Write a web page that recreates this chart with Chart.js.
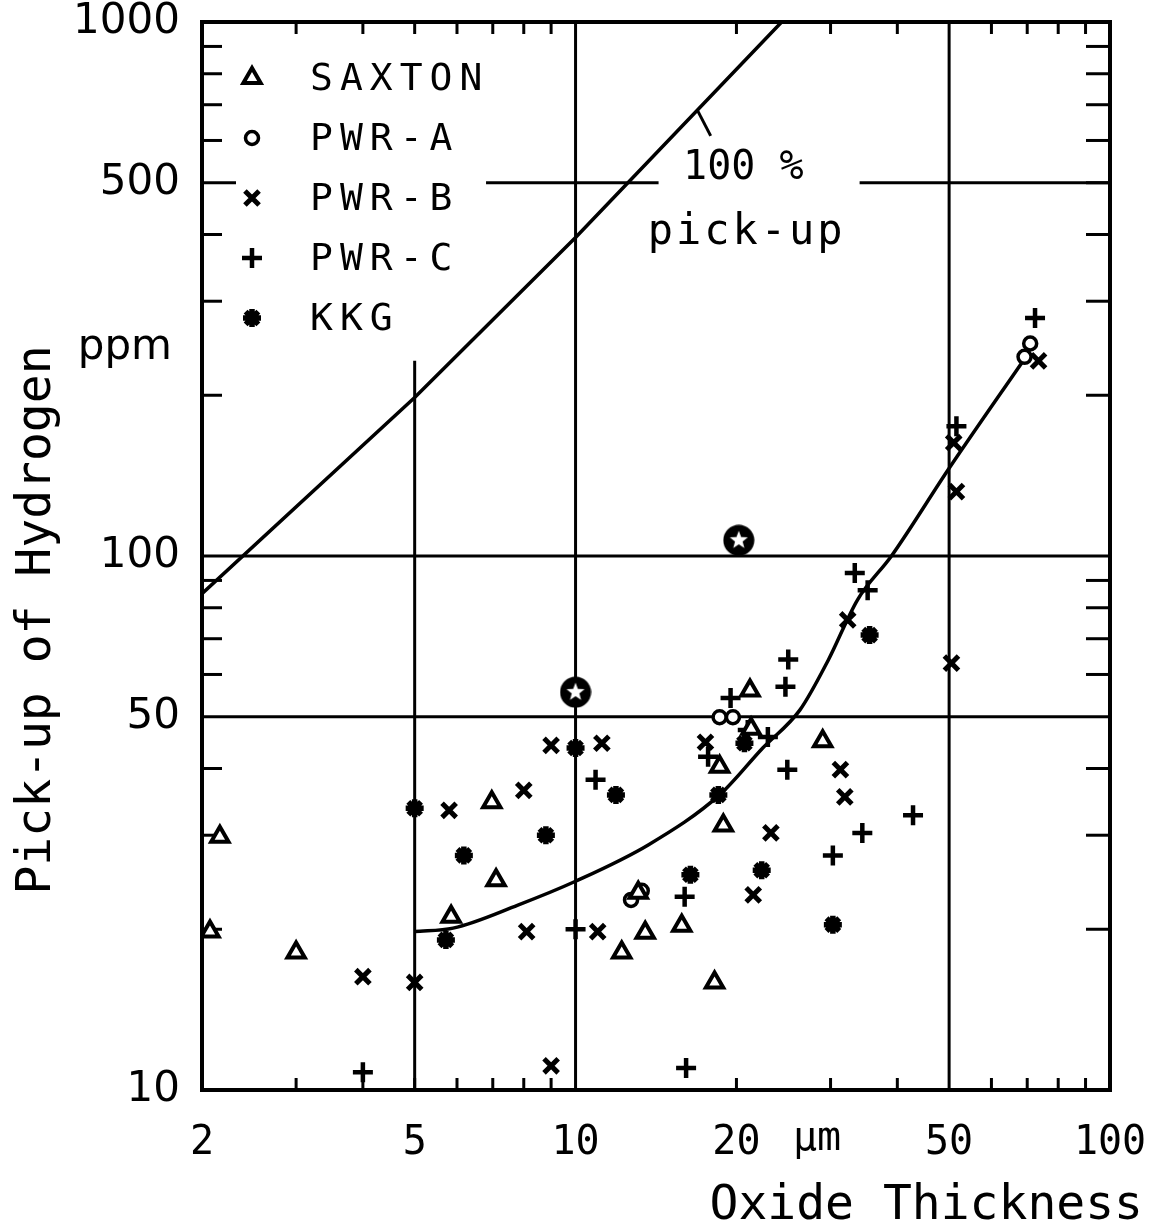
<!DOCTYPE html>
<html>
<head>
<meta charset="utf-8">
<script src="https://cdn.jsdelivr.net/npm/chart.js@4.4.0/dist/chart.umd.min.js"></script>
<style>
  body { margin: 0; background: #fff; }
  #wrap { width: 1158px; height: 1229px; }
</style>
</head>
<body>
<div id="wrap"><canvas id="mycanvas"></canvas></div>
<script>
// oxide thickness (um) vs. hydrogen pick-up (ppm), one pair of arrays per plant
var saxtonX = [2.16, 2.07, 3.0, 6.97, 7.1, 5.85, 12.2, 13.1, 13.5, 15.8, 18.2, 18.9, 18.6, 21.3, 21.2, 29.0];
var saxtonY = [29.8, 19.8, 18.1, 34.6, 24.7, 21.1, 18.1, 23.4, 19.7, 20.3, 15.9, 31.3, 40.3, 47.5, 56.0, 45.0];

var pwrAX = [12.7, 13.3, 18.6, 19.7, 69.2, 70.9];
var pwrAY = [22.7, 23.6, 49.9, 49.9, 236, 250];

var pwrBX = [4.0, 5.0, 5.8, 8.0, 8.1, 9.0, 9.0, 11.0, 11.2, 17.5, 21.5, 23.2, 31.3, 31.9, 32.3, 50.5, 51.0, 51.6, 73.5];
var pwrBY = [16.3, 15.9, 33.4, 36.4, 19.8, 44.2, 11.1, 19.8, 44.6, 44.8, 23.2, 30.3, 39.8, 35.4, 75.9, 63, 163, 132, 232];

var pwrCX = [4.0, 10.0, 10.9, 16.1, 16.0, 17.7, 19.5, 21.0, 22.9, 24.9, 24.7, 25.0, 30.3, 34.4, 42.8, 33.3, 35.2, 51.6, 72.4];
var pwrCY = [10.8, 20.0, 38.1, 11.0, 23.0, 42.1, 54.2, 47.2, 45.8, 39.8, 56.9, 64.0, 27.5, 30.3, 32.7, 92.9, 86.3, 175, 279];

var kkgX = [5.0, 5.72, 6.18, 8.8, 10.0, 11.9, 16.4, 18.5, 20.7, 22.3, 30.3, 35.5];
var kkgY = [33.7, 19.1, 27.5, 30.0, 43.7, 35.7, 25.3, 35.7, 44.6, 25.8, 20.4, 71.1];

// the two circled-star points
var badgeX = [10.0, 20.2];
var badgeY = [55.6, 107];

// trend through the measurements
var fitX = [5, 5.9, 7.8, 10, 13.7, 18.6, 22.4, 26.3, 29.7, 33.7, 39, 50, 70];
var fitY = [19.8, 20.1, 22.2, 24.6, 28.8, 35.7, 43.7, 51.5, 63.8, 82.8, 100, 146, 238];

// 100 % pick-up line
var fullX = [2, 5, 10, 24.3];
var fullY = [85, 198, 395, 1000];

var xTicks = [2, 5, 10, 20, 50, 100];
var yTicks = [10, 50, 100, 500, 1000];
var seriesNames = ['SAXTON', 'PWR-A', 'PWR-B', 'PWR-C', 'KKG'];

function zip(xs, ys) {
	var out = [];
	for (var i in xs) {
		out.push({x: xs[i], y: ys[i]});
	}
	return out;
}

// black disc with a white star
var badge = document.createElement('canvas');
badge.width = 32;
badge.height = 32;
(function(){
	var c = badge.getContext('2d');
	c.fillStyle = '#000';
	c.beginPath();
	c.arc(16, 16, 15.5, 0, Math.PI * 2);
	c.fill();
	c.fillStyle = '#fff';
	c.beginPath();
	for (var k = 0; k < 10; k++) {
		var r = k % 2 ? 4 : 9.5;
		var a = -Math.PI / 2 + k * Math.PI / 5;
		c.lineTo(16 + r * Math.cos(a), 16 + r * Math.sin(a));
	}
	c.closePath();
	c.fill();
})();

var monoFont = '"DejaVu Sans Mono", "Liberation Mono", monospace';
var sansFont = '"DejaVu Sans", "Liberation Sans", sans-serif';

function line(ctx, x1, y1, x2, y2) {
	ctx.beginPath();
	ctx.moveTo(x1, y1);
	ctx.lineTo(x2, y2);
	ctx.stroke();
}

var frame = {
	id: 'frame',
	beforeDatasetsDraw: function(chart) {
		var ctx = chart.ctx, a = chart.chartArea;
		var xs = chart.scales.x, ys = chart.scales.y;
		ctx.save();
		ctx.strokeStyle = '#000';
		ctx.lineWidth = 3;

		[10, 50].forEach(function(v){
			var px = xs.getPixelForValue(v);
			line(ctx, px, a.top, px, a.bottom);
		});
		[50, 100].forEach(function(v){
			var py = ys.getPixelForValue(v);
			line(ctx, a.left, py, a.right, py);
		});
		// 5 um line stops above the 100 % line
		var p5 = xs.getPixelForValue(5);
		line(ctx, p5, ys.getPixelForValue(232), p5, a.bottom);
		// 500 ppm line, broken for the label
		var p500 = ys.getPixelForValue(500);
		line(ctx, xs.getPixelForValue(6.8), p500, xs.getPixelForValue(14.3), p500);
		line(ctx, xs.getPixelForValue(34), p500, a.right, p500);

		// inward minor ticks on all four sides
		[3, 4, 5, 6, 7, 8, 9, 20, 30, 40, 60, 70, 80, 90].forEach(function(v){
			var px = xs.getPixelForValue(v);
			line(ctx, px, a.top, px, a.top + 12);
			line(ctx, px, a.bottom, px, a.bottom - 12);
		});
		[20, 30, 40, 60, 70, 80, 90, 200, 300, 400, 500, 600, 700, 800, 900].forEach(function(v){
			var py = ys.getPixelForValue(v);
			line(ctx, a.left, py, a.left + (v == 500 ? 34 : 20), py);
			line(ctx, a.right, py, a.right - 24, py);
		});

		ctx.lineWidth = 4;
		ctx.strokeRect(a.left, a.top, a.right - a.left, a.bottom - a.top);
		ctx.restore();
	},
	afterDraw: function(chart) {
		var ctx = chart.ctx, a = chart.chartArea;
		var xs = chart.scales.x, ys = chart.scales.y;
		ctx.save();
		ctx.fillStyle = '#000';
		ctx.strokeStyle = '#000';

		// axis titles
		ctx.font = '48px ' + monoFont;
		ctx.textAlign = 'right';
		ctx.textBaseline = 'alphabetic';
		ctx.fillText('Oxide Thickness', 1143, 1219);

		ctx.save();
		ctx.translate(38, 620);
		ctx.rotate(-Math.PI / 2);
		ctx.textAlign = 'center';
		ctx.textBaseline = 'middle';
		ctx.fillText('Pick-up of Hydrogen', 0, 0);
		ctx.restore();

		// units next to the tick labels
		ctx.font = '42px ' + sansFont;
		ctx.textAlign = 'right';
		ctx.textBaseline = 'middle';
		ctx.fillText('ppm', a.left - 30, ys.getPixelForValue(245));

		ctx.font = '40px ' + monoFont;
		ctx.textAlign = 'center';
		ctx.textBaseline = 'top';
		ctx.fillText('\u03bcm', xs.getPixelForValue(28.3), xs.top + 30);

		// label of the 100 % line with its leader
		ctx.textBaseline = 'middle';
		ctx.fillText('100 %', xs.getPixelForValue(20.6), ys.getPixelForValue(531));
		ctx.font = '42px ' + monoFont;
		ctx.letterSpacing = '3px';
		ctx.fillText('pick-up', xs.getPixelForValue(20.9), ys.getPixelForValue(403));
		ctx.letterSpacing = '0px';
		ctx.lineWidth = 3;
		line(ctx, xs.getPixelForValue(16.9), ys.getPixelForValue(684), xs.getPixelForValue(17.9), ys.getPixelForValue(612));

		// legend inside the plot
		ctx.font = '38px ' + monoFont;
		ctx.letterSpacing = '7px';
		ctx.textAlign = 'left';
		ctx.textBaseline = 'middle';
		for (var i = 0; i < seriesNames.length; i++) {
			var ds = chart.data.datasets[i];
			var cy = a.top + 56 + i * 60;
			ctx.fillStyle = ds.pointBackgroundColor;
			ctx.strokeStyle = '#000';
			ctx.lineWidth = ds.pointBorderWidth;
			if (Chart.helpers && Chart.helpers.drawPoint) {
				Chart.helpers.drawPoint(ctx, {
					pointStyle: ds.pointStyle,
					radius: ds.pointRadius,
					borderWidth: ds.pointBorderWidth,
					rotation: 0
				}, a.left + 50, cy);
			}
			ctx.fillStyle = '#000';
			ctx.fillText(seriesNames[i], a.left + 108, cy + 2);
		}
		ctx.restore();
	}
};

function pointSet(name, xs, ys, style, radius, border, fill) {
	return {
		label: name,
		data: zip(xs, ys),
		pointStyle: style,
		pointRadius: radius,
		pointBorderWidth: border,
		pointBackgroundColor: fill,
		pointBorderColor: '#000',
		showLine: false
	};
}

var chartdata = {
	datasets: [
		pointSet('SAXTON', saxtonX, saxtonY, 'triangle', 10, 4, '#fff'),
		pointSet('PWR-A', pwrAX, pwrAY, 'circle', 6.5, 3.5, '#fff'),
		pointSet('PWR-B', pwrBX, pwrBY, 'crossRot', 10, 5, '#000'),
		pointSet('PWR-C', pwrCX, pwrCY, 'cross', 10, 4.5, '#000'),
		pointSet('KKG', kkgX, kkgY, 'star', 9, 5.5, '#000'),
		{
			label: 'marked',
			data: zip(badgeX, badgeY),
			pointStyle: badge,
			showLine: false
		},
		{
			label: 'trend',
			data: zip(fitX, fitY),
			showLine: true,
			borderColor: '#000',
			borderWidth: 3.5,
			pointRadius: 0,
			cubicInterpolationMode: 'monotone'
		},
		{
			label: '100 % pick-up',
			data: zip(fullX, fullY),
			showLine: true,
			borderColor: '#000',
			borderWidth: 3.5,
			pointRadius: 0
		}
	]
};

var ctx = document.getElementById('mycanvas');

var PickupChart = new Chart(ctx, {
	type: 'scatter',
	data: chartdata,
	plugins: [frame],
	options: {
		responsive: true,
		maintainAspectRatio: false,
		animation: false,
		events: [],
		layout: { padding: { left: 0, top: 22, right: 48, bottom: 0 } },
		plugins: {
			legend: { display: false },
			tooltip: { enabled: false }
		},
		scales: {
			x: {
				type: 'logarithmic',
				min: 2,
				max: 100,
				grid: { display: false, drawTicks: false },
				border: { display: false },
				afterBuildTicks: function(scale){
					scale.ticks = xTicks.map(function(v){ return {value: v}; });
				},
				afterFit: function(scale){
					scale.height = 139;
					scale.paddingLeft = 0;
					scale.paddingRight = 0;
				},
				ticks: {
					autoSkip: false,
					maxRotation: 0,
					padding: 30,
					color: '#000',
					font: { family: monoFont, size: 40 },
					callback: function(v){ return String(v); }
				}
			},
			y: {
				type: 'logarithmic',
				min: 10,
				max: 1000,
				grid: { display: false, drawTicks: false },
				border: { display: false },
				afterBuildTicks: function(scale){
					scale.ticks = yTicks.map(function(v){ return {value: v}; });
				},
				afterFit: function(scale){
					scale.width = 202;
					scale.paddingTop = 0;
					scale.paddingBottom = 0;
				},
				ticks: {
					autoSkip: false,
					padding: 22,
					color: '#000',
					font: { family: sansFont, size: 42 },
					callback: function(v){ return String(v); }
				}
			}
		}
	}
});
</script>
</body>
</html>
